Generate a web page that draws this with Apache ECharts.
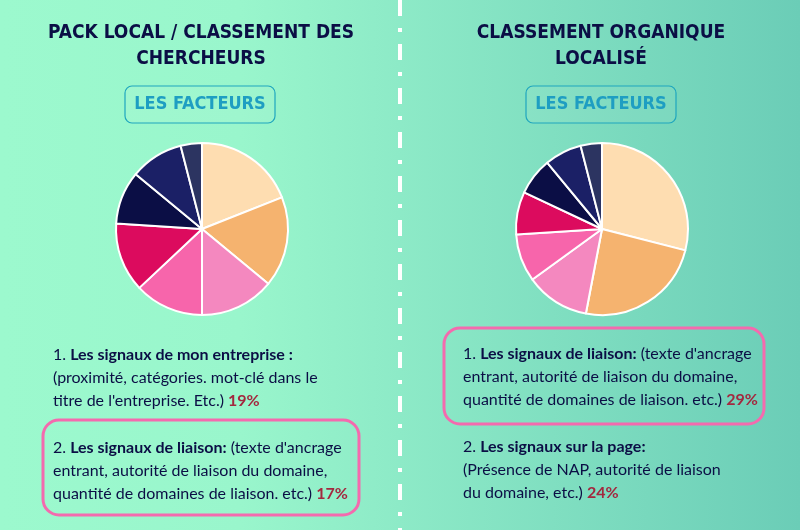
<!DOCTYPE html>
<html>
<head>
<meta charset="utf-8">
<script src="https://cdn.jsdelivr.net/npm/echarts@6/dist/echarts.min.js"></script>
<style>
  html, body { margin: 0; padding: 0; }
  #chart { width: 800px; height: 530px; }
</style>
</head>
<body>
<div id="chart"></div>
<script>
// parts of each pie, read clockwise from 12 o'clock
const categories = [
    'Les signaux de mon entreprise', 'Les signaux de liaison', 'Facteur 3', 'Facteur 4',
    'Facteur 5', 'Facteur 6', 'Facteur 7', 'Facteur 8'
]
const categoriesOrganique = [
    'Les signaux de liaison', 'Les signaux sur la page', 'Facteur 3', 'Facteur 4',
    'Facteur 5', 'Facteur 6', 'Facteur 7', 'Facteur 8'
]
const packLocalValues = [19, 17, 14, 13, 13, 10, 10, 4]
const organiqueValues = [29, 24, 12, 9, 8, 7, 7, 4]

const sliceColors = ['#FEDDB1', '#F5B36F', '#F488BF', '#F765AB', '#DC0B5E', '#0B0E45', '#1B2066', '#2C3461']
const navy = '#0B0E45'
const red = '#A3283F'
const teal = '#1E9EC2'
const pink = '#F46AAE'

const chart = echarts.init(document.getElementById('chart'))

// colour by position, not by name (both pies share some names)
function pieData(names, values) {
    return values.map((v, i) => ({ name: names[i], value: v, itemStyle: { color: sliceColors[i] } }))
}

function pieSeries(name, names, values, cx) {
    return {
        type: 'pie',
        name,
        center: [cx, 229],
        radius: [0, 86],
        startAngle: 90,
        silent: true,
        label: { show: false },
        labelLine: { show: false },
        itemStyle: { borderColor: '#ffffff', borderWidth: 2 },
        data: pieData(names, values)
    }
}

const titleFont = { fontFamily: 'DejaVu Sans Condensed', fontWeight: 'bold' }
const bodyRich = {
    b: { fontFamily: 'Lato', fontWeight: 'bold', fontSize: 16, fill: navy, lineHeight: 23 },
    p: { fontFamily: 'Lato', fontWeight: 'bold', fontSize: 16, fill: red, lineHeight: 23 }
}

function title(lines, cx) {
    return {
        type: 'text',
        x: cx,
        y: 20,
        style: Object.assign({
            text: lines.join('\n'),
            fontSize: 19,
            lineHeight: 26,
            fill: navy,
            align: 'center'
        }, titleFont)
    }
}

function facteursBox(x) {
    return [
        {
            type: 'rect',
            shape: { x: x, y: 86, width: 150, height: 37, r: 7 },
            style: { fill: 'rgba(255,255,255,0.05)', stroke: '#1FA6BE', lineWidth: 1.2 }
        },
        {
            type: 'text',
            x: x + 75,
            y: 104.5,
            style: Object.assign({
                text: 'LES FACTEURS',
                fontSize: 18,
                fill: teal,
                align: 'center',
                verticalAlign: 'middle'
            }, titleFont)
        }
    ]
}

function paragraph(text, x, y) {
    return {
        type: 'text',
        x: x,
        y: y,
        style: {
            text: text,
            fontFamily: 'Lato',
            fontSize: 16,
            lineHeight: 23,
            fill: navy,
            rich: bodyRich
        }
    }
}

function pinkBox(x, y, w, h) {
    return {
        type: 'rect',
        shape: { x: x, y: y, width: w, height: h, r: 16 },
        style: { fill: 'none', stroke: pink, lineWidth: 3 }
    }
}

const option = {
    animation: false,
    graphic: [
        {
            type: 'rect',
            z: -10,
            shape: { x: 0, y: 0, width: 800, height: 530 },
            style: {
                fill: new echarts.graphic.LinearGradient(0, 0, 1, 0, [
                    { offset: 0, color: '#9CF9CE' },
                    { offset: 0.3, color: '#99F6CC' },
                    { offset: 0.5, color: '#8DEAC7' },
                    { offset: 1, color: '#6BCDB7' }
                ])
            }
        },
        {
            type: 'line',
            shape: { x1: 400, y1: 0, x2: 400, y2: 530 },
            style: { stroke: '#ffffff', lineWidth: 4, lineDash: [16, 12, 4, 12] }
        },
        title(['PACK LOCAL / CLASSEMENT DES', 'CHERCHEURS'], 201),
        title(['CLASSEMENT ORGANIQUE', 'LOCALISÉ'], 601),
        ...facteursBox(125),
        ...facteursBox(526),
        paragraph('1. {b|Les signaux de mon entreprise :}\n(proximité, catégories. mot-clé dans le\ntitre de l\'entreprise. Etc.) {p|19%}', 53, 343),
        pinkBox(43, 420, 316, 95),
        paragraph('2. {b|Les signaux de liaison:} (texte d\'ancrage\nentrant, autorité de liaison du domaine,\nquantité de domaines de liaison. etc.) {p|17%}', 53, 436),
        pinkBox(444, 328, 320, 96),
        paragraph('1. {b|Les signaux de liaison:} (texte d\'ancrage\nentrant, autorité de liaison du domaine,\nquantité de domaines de liaison. etc.) {p|29%}', 463, 342),
        paragraph('2. {b|Les signaux sur la page:}\n(Présence de NAP, autorité de liaison\ndu domaine, etc.) {p|24%}', 463, 435)
    ],
    series: [
        pieSeries('Pack local / classement des chercheurs', categories, packLocalValues, 202),
        pieSeries('Classement organique localisé', categoriesOrganique, organiqueValues, 602)
    ]
}

chart.setOption(option)
</script>
</body>
</html>
